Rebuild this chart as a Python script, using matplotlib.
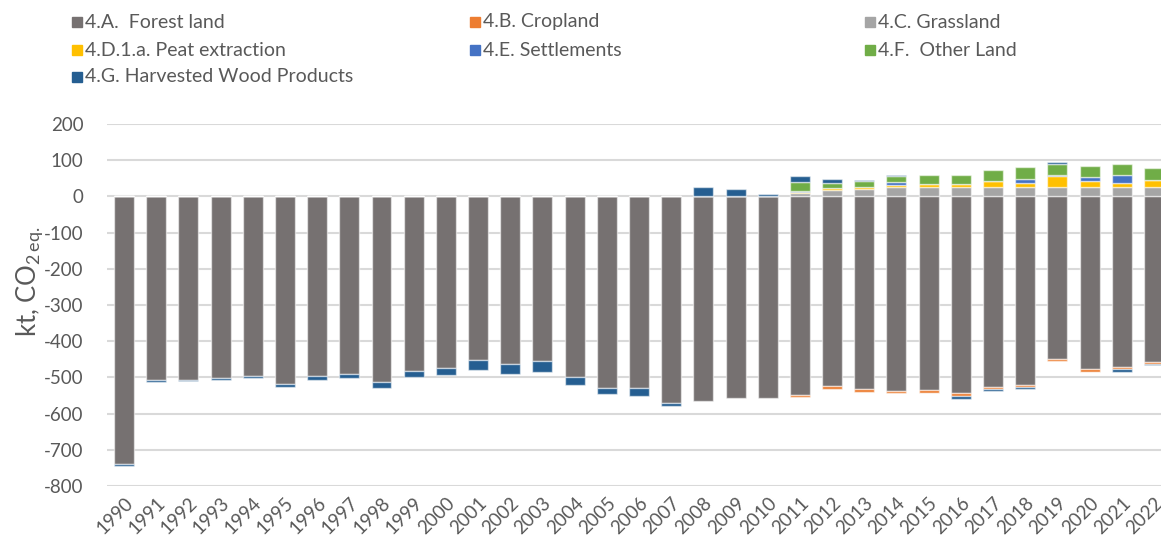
import numpy as np
import matplotlib
matplotlib.use('Agg')
import matplotlib.pyplot as plt
from matplotlib.patches import Rectangle

plt.rcParams['font.family'] = ['Lato', 'DejaVu Sans']
plt.rcParams['axes.unicode_minus'] = False
plt.rcParams['mathtext.fontset'] = 'custom'
plt.rcParams['mathtext.rm'] = 'Lato'
plt.rcParams['mathtext.it'] = 'Lato'

years = [str(y) for y in range(1990, 2023)]

# kt CO2 eq. per LULUCF category
forest = [-740, -508, -506, -501, -497, -518, -497, -490, -512, -481, -473,
          -453, -464, -456, -498, -528, -528, -572, -566, -556, -556,
          -549, -524, -532, -538, -535, -543, -527, -520, -450, -477, -471, -458]
cropland = [0] * 21 + [-6, -7, -7, -5, -7, -7, -6, -7, -6, -7, -7, -5]
grassland = [0] * 21 + [9, 17, 20, 25, 25, 25, 25, 25, 25, 25, 25, 25]
peat = [2] + [0] * 9 + [2] + [0] * 10 + [4, 5, 6, 6, 8, 8, 18, 12, 31, 18, 13, 21]
settlements = [0] * 21 + [3, 1, 1, 10, 0, 0, 0, 11, 2, 10, 21, 0]
other_land = [0] * 21 + [24, 13, 15, 16, 25, 25, 31, 32, 32, 32, 31, 32]
hwp = [-6, -5, -4, -5, -6, -8, -9, -12, -17, -17, -19, -27, -26, -30, -24,
       -17, -24, -6, 26, 21, 7, 15, 11, 4, 3, -2, -11, -4, -6, 5, -1, -6, -4]

series = [
    ('4.A.  Forest land', forest, '#767171'),
    ('4.B. Cropland', cropland, '#ED7D31'),
    ('4.C. Grassland', grassland, '#A5A5A5'),
    ('4.D.1.a. Peat extraction', peat, '#FFC000'),
    ('4.E. Settlements', settlements, '#4472C4'),
    ('4.F.  Other Land', other_land, '#70AD47'),
    ('4.G. Harvested Wood Products', hwp, '#255E91'),
]

fig = plt.figure(figsize=(11.61, 5.51), dpi=100)
ax = fig.add_axes([107 / 1161, 65 / 551, 1 - 107 / 1161, 362 / 551])

x = np.arange(len(years))
pos = np.zeros(len(years))
neg = np.zeros(len(years))
for name, vals, color in series:
    v = np.array(vals, dtype=float)
    base = np.where(v >= 0, pos, neg)
    ax.bar(x, v, 0.62, bottom=base, color=color,
           edgecolor=(1, 1, 1, 0.55), linewidth=1, zorder=3)
    pos += np.where(v >= 0, v, 0)
    neg += np.where(v < 0, v, 0)

ax.set_ylim(-800, 200)
ax.set_xlim(-0.53, len(years) - 1 + 0.22)
ax.set_yticks(range(-800, 201, 100))
ax.yaxis.grid(True, color='#d9d9d9', linewidth=1.5, zorder=0)
ax.set_axisbelow(True)
for s in ax.spines.values():
    s.set_visible(False)
ax.tick_params(axis='both', length=0, labelsize=13.5, labelcolor='#595959')
ax.tick_params(axis='y', pad=17)
ax.set_xticks(x)
ax.set_xticklabels(years, rotation=45, ha='right', rotation_mode='anchor')
ax.tick_params(axis='x', pad=6)

ax.set_ylabel(r'kt, CO$_{2\,\mathrm{eq.}}$', fontsize=18.5, color='#595959')
ax.yaxis.set_label_coords(-62 / 1054, 0.565)

# legend laid out by hand: three columns, row-wise
leg_x = [72, 470, 865]
leg_y = [22, 50, 77]
W, H = 1161, 551
for i, (name, vals, color) in enumerate(series):
    r, c = divmod(i, 3)
    x0, yc = leg_x[c], leg_y[r]
    fig.patches.append(Rectangle((x0 / W, 1 - (yc + 5) / H), 10 / W, 10 / H,
                                 transform=fig.transFigure, color=color))
    fig.text((x0 + 13) / W, 1 - yc / H, name, fontsize=14, color='#595959',
             va='center', ha='left')

fig.savefig('out.png', dpi=100)
